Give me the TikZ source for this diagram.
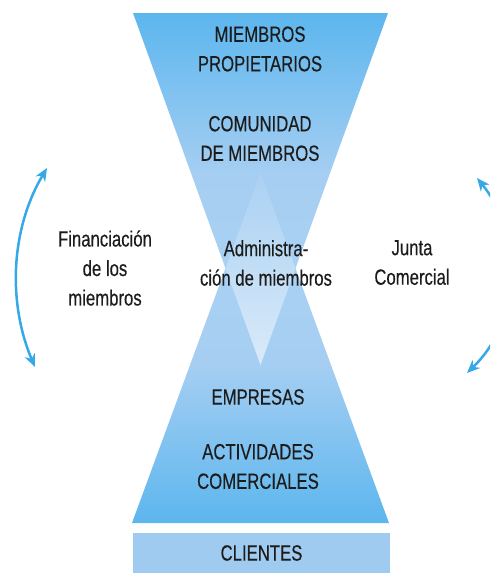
\documentclass[tikz,border=0pt]{standalone}
\usepackage{fontspec}
\setmainfont{Liberation Sans}[FakeStretch=0.76,FakeBold=0.3]
\usetikzlibrary{arrows.meta}
\definecolor{dk}{RGB}{92,182,238}
\definecolor{md}{RGB}{165,206,242}
\definecolor{lt}{RGB}{174,212,244}
\definecolor{dtop}{RGB}{170,209,243}
\definecolor{dbot}{RGB}{218,234,249}
\definecolor{cl}{RGB}{160,203,240}
\definecolor{arr}{RGB}{53,168,232}
\definecolor{txt}{RGB}{28,28,28}
\pgfdeclareverticalshading{topshade}{100bp}{color(0bp)=(lt); color(25bp)=(lt); color(52.27bp)=(md); color(75bp)=(dk); color(100bp)=(dk)}
\pgfdeclareverticalshading{botshade}{100bp}{color(0bp)=(dk); color(25bp)=(dk); color(47.57bp)=(md); color(75bp)=(lt); color(100bp)=(lt)}
\begin{document}
\begin{tikzpicture}[x=1pt,y=-1pt,
  lbl/.style={font=\fontsize{22}{29.5}\selectfont, text=txt, align=center, inner sep=0pt},
  arc/.style={draw=arr, line width=2.5pt, {Stealth[length=13pt,width=11pt]}-{Stealth[length=13pt,width=11pt]}}]
\useasboundingbox (0,0) rectangle (490,573);
% top (inverted) triangle and bottom triangle
\shade[shading=topshade] (133,13) -- (388,13) -- (260.5,365) -- cycle;
\shade[shading=botshade] (132,523) -- (389,523) -- (260.5,173) -- cycle;
% overlap diamond
\shade[top color=dtop, bottom color=dbot] (260.5,173) -- (295.5,268.4) -- (260.5,365) -- (225.5,268.4) -- cycle;
% clientes bar
\node[lbl, fill=cl, minimum width=257pt, minimum height=40pt] (clientes) at (261.5,553) {CLIENTES};
% labels
\node[lbl] (propietarios) at (260,49) {MIEMBROS\\PROPIETARIOS};
\node[lbl] (comunidad) at (260,138.5) {COMUNIDAD\\DE MIEMBROS};
\node[lbl] (admin) at (266,263) {Administra-\\ción de miembros};
\node[lbl] (empresas) at (258,397) {EMPRESAS};
\node[lbl] (actividades) at (258,466.5) {ACTIVIDADES\\COMERCIALES};
\node[lbl] (financiacion) at (105,268) {Financiación\\de los\\miembros};
\node[lbl] (junta) at (412,262.5) {Junta\\Comercial};
% arrows
\coordinate (la) at (47,168);
\coordinate (lb) at (35,367);
\coordinate (ra) at (477,178);
\coordinate (rb) at (467,373);
\draw[arc] (la) .. controls (10,230) and (8,304) .. (lb);
\begin{scope}
  \clip (0,0) rectangle (490,573);
  \draw[arc] (ra) .. controls (524,236) and (521,321) .. (rb);
\end{scope}
\end{tikzpicture}
\end{document}
